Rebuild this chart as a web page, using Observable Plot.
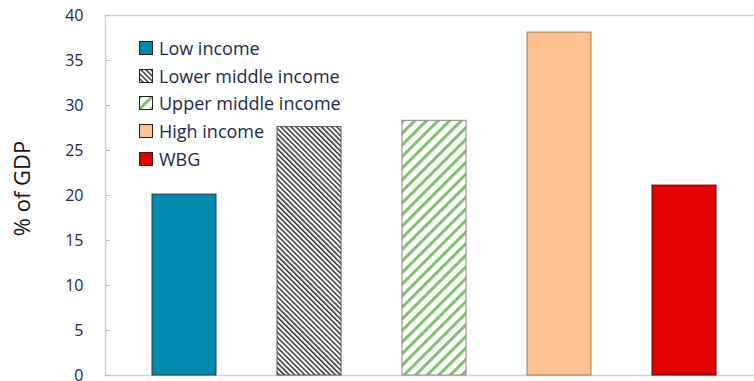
<!DOCTYPE html>
<html>
<head>
<meta charset="utf-8">
<script src="https://cdn.jsdelivr.net/npm/d3@7"></script>
<script src="https://cdn.jsdelivr.net/npm/@observablehq/plot@0.6"></script>
<style>
  html, body { margin: 0; padding: 0; background: #fff; }
  #wrap { position: relative; width: 754px; height: 381px; font-family: "Open Sans", sans-serif; }
  #wrap svg { overflow: visible; }
  #legend { position: absolute; left: 139px; top: 34px; }
  .row { display: flex; align-items: center; height: 27.8px; font-size: 18px; color: #1b2a4a; }
  .row svg { margin-right: 6px; }
</style>
</head>
<body>
<div id="wrap"><div id="legend"></div></div>
<script>
// ---- data ----
const categories = ["Low income", "Lower middle income", "Upper middle income", "High income", "WBG"];
const values = [20.1, 27.6, 28.3, 38.1, 21.1];
const yTicks = [0, 5, 10, 15, 20, 25, 30, 35, 40];
const yLabel = "% of GDP";

// ---- styles ----
const fills = ["#0089ad", "url(#hatchBlack)", "url(#hatchGreen)", "#ffc18f", "#e00000"];
const strokes = ["#203845", "#555", "#888", "#9c7d63", "#4a0a0a"];
const textColor = "#1b2a4a";
const lineColor = "#d2d2d2";

const data = categories.map((c, i) => ({cat: c, value: values[i], fill: fills[i], stroke: strokes[i]}));

const plot = Plot.plot({
  width: 754,
  height: 381,
  marginTop: 15,
  marginBottom: 6,
  marginLeft: 105,
  marginRight: 0,
  style: {fontFamily: "'Open Sans', sans-serif", background: "#fff", overflow: "visible"},
  x: {domain: categories, range: [105, 762.6], paddingInner: 0.49, paddingOuter: 0.367, axis: null},
  y: {domain: [0, 40], axis: null},
  color: {type: "identity"},
  marks: [
    Plot.ruleY([0, 40], {stroke: lineColor, strokeWidth: 1.5}),
    Plot.frame({anchor: "left", stroke: lineColor, strokeWidth: 1.5}),
    Plot.axisY({ticks: yTicks, text: null, tickSize: -5, stroke: "#bdbdbd", label: null}),
    Plot.axisY({ticks: yTicks, tickSize: 0, tickPadding: 22, fill: textColor, fontSize: 16, label: null}),
    Plot.barY(data, {x: "cat", y: "value", fill: "fill", stroke: "stroke", strokeWidth: 1}),
    Plot.text([yLabel], {frameAnchor: "left", textAnchor: "middle", rotate: -90, dx: -83, dy: -7, fontSize: 22, fill: "#111", fontFamily: "'Open Sans', sans-serif"})
  ]
});

// hatch patterns
const defs = `
<defs>
  <pattern id="hatchBlack" patternUnits="userSpaceOnUse" width="3.6" height="3.6" patternTransform="rotate(-45)">
    <rect x="0" y="0" width="3.6" height="3.6" fill="#fff"/>
    <rect x="0" y="0" width="1.5" height="3.6" fill="#333"/>
  </pattern>
  <pattern id="hatchGreen" patternUnits="userSpaceOnUse" width="8.2" height="8.2" patternTransform="rotate(45)">
    <rect x="0" y="0" width="8.2" height="8.2" fill="#fff"/>
    <rect x="0" y="0" width="3" height="8.2" fill="#7dc16b"/>
  </pattern>
</defs>`;
plot.insertAdjacentHTML("afterbegin", defs);
document.getElementById("wrap").prepend(plot);

// legend
const legend = d3.select("#legend");
data.forEach(d => {
  const row = legend.append("div").attr("class", "row");
  const sw = row.append("svg").attr("width", 14).attr("height", 14);
  sw.append("rect").attr("x", 0.5).attr("y", 0.5).attr("width", 13).attr("height", 13)
    .attr("fill", d.fill).attr("stroke", "#222").attr("stroke-width", 1);
  row.append("span").text(d.cat);
});
</script>
</body>
</html>
